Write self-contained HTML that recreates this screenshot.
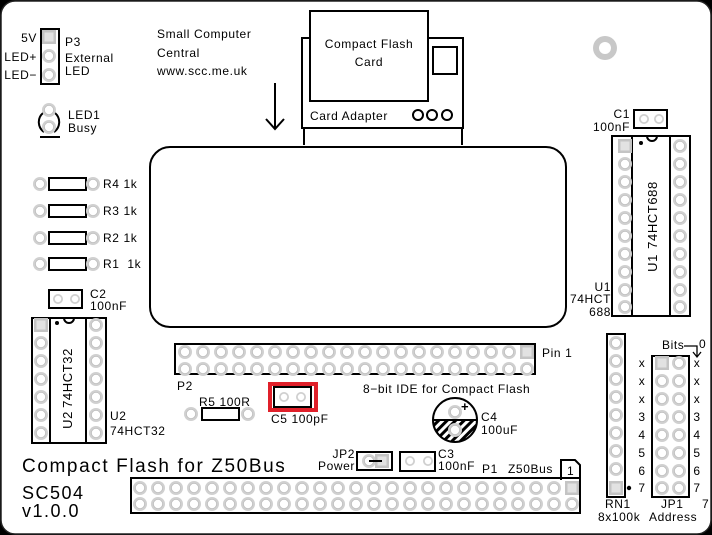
<!DOCTYPE html>
<html><head><meta charset="utf-8"><style>
html,body{margin:0;padding:0;background:#000;}
svg{display:block;font-family:"Liberation Sans",sans-serif;font-size:12px;letter-spacing:0.6px}
text{fill:#000}
</style></head><body>
<svg width="712" height="535" viewBox="0 0 712 535" xmlns="http://www.w3.org/2000/svg">
<defs>
<g id="pad"><circle r="7" fill="#d0d0d0"/><circle r="4.6" fill="#fff"/><circle r="4.6" fill="none" stroke="#bdbdbd" stroke-width="0.8"/></g>
<g id="spad"><rect x="-7" y="-7" width="14" height="14" fill="#c4c4c4"/><rect x="-4.5" y="-4.5" width="9" height="9" fill="#e2e2e2"/></g>
<g id="spad2"><circle r="5" fill="#d0d0d0"/><circle r="3.2" fill="#fff"/></g>
<pattern id="hatch" width="6" height="6" patternUnits="userSpaceOnUse" patternTransform="rotate(45)"><rect width="6" height="6" fill="#fff"/><rect width="3" height="6" fill="#000"/></pattern>
</defs>
<rect x="1" y="1" width="710" height="533" rx="14" fill="#fff" stroke="#222" stroke-width="1.5"/>
<g fill="none" stroke="#000" stroke-width="2">
<rect x="41" y="29" width="18" height="55"/>
<rect x="302" y="38" width="161" height="90"/>
<rect x="310" y="11" width="118" height="90" fill="#fff"/>
<rect x="433" y="47" width="24" height="27"/>
<line x1="304" y1="128" x2="304" y2="145"/><line x1="462" y1="128" x2="462" y2="145"/>
<circle cx="418" cy="115" r="5"/><circle cx="432" cy="115" r="5"/><circle cx="447" cy="115" r="5"/>
<rect x="150" y="147" width="416" height="180" rx="20"/>
<rect x="49" y="178" width="37" height="12"/><rect x="49" y="205" width="37" height="12"/>
<rect x="49" y="232" width="37" height="12"/><rect x="49" y="258" width="37" height="12"/>
<rect x="202" y="408" width="37" height="12"/>
<rect x="49" y="290" width="33" height="18"/><rect x="634" y="110" width="33" height="18"/>
<rect x="400" y="452" width="35" height="19"/>
<rect x="32" y="318" width="74" height="125"/><line x1="50" y1="318" x2="50" y2="443"/><line x1="86" y1="318" x2="86" y2="443"/>
<rect x="612" y="136" width="78" height="180"/><line x1="632" y1="136" x2="632" y2="316"/><line x1="670" y1="136" x2="670" y2="316"/>
<rect x="175" y="344" width="360" height="30"/>
<rect x="357" y="452" width="35" height="18"/>
<rect x="131" y="478" width="449" height="35"/>
<path d="M561 480 V460 H575 L580 465 V480"/>
<rect x="607" y="334" width="18" height="163"/>
<rect x="652" y="356" width="37" height="141"/>
</g>
<rect x="270" y="384" width="46" height="26" fill="none" stroke="#e0202a" stroke-width="4"/>
<rect x="274" y="387" width="37" height="20" fill="none" stroke="#000" stroke-width="2"/>
<path d="M43 113 A12 12 0 0 0 44 132" fill="none" stroke="#000" stroke-width="2"/>
<path d="M55 113 A12 12 0 0 1 54 132" fill="none" stroke="#000" stroke-width="2"/>
<line x1="40" y1="137" x2="60" y2="137" stroke="#000" stroke-width="2"/>
<use href="#pad" x="49" y="110"/><use href="#pad" x="49" y="127"/>
<use href="#spad" x="49" y="37"/><use href="#pad" x="49" y="56"/><use href="#pad" x="49" y="75"/>
<g stroke="#000" stroke-width="2" fill="none"><line x1="275" y1="83" x2="275" y2="129"/><path d="M266 119 L275 129 L284 119"/></g>
<use href="#pad" x="40" y="184"/><use href="#pad" x="93" y="184"/>
<use href="#pad" x="40" y="211"/><use href="#pad" x="93" y="211"/>
<use href="#pad" x="40" y="238"/><use href="#pad" x="93" y="238"/>
<use href="#pad" x="40" y="264"/><use href="#pad" x="93" y="264"/>
<use href="#pad" x="191" y="414"/><use href="#pad" x="248" y="414"/>
<use href="#spad2" x="58" y="299"/><use href="#spad2" x="75" y="299"/>
<use href="#spad2" x="644" y="119"/><use href="#spad2" x="659" y="119"/>
<use href="#spad2" x="410" y="461"/><use href="#spad2" x="428" y="461"/>
<use href="#spad2" x="284" y="397"/><use href="#spad2" x="301" y="397"/>
<use href="#spad" x="41" y="325"/>
<g id="u2l"><use href="#pad" x="41" y="343"/><use href="#pad" x="41" y="361"/><use href="#pad" x="41" y="379"/><use href="#pad" x="41" y="397"/><use href="#pad" x="41" y="415"/><use href="#pad" x="41" y="433"/></g>
<use href="#pad" x="96" y="325"/><use href="#u2l" x="55"/>
<circle cx="57" cy="323" r="2" fill="#000"/><path d="M64 318 A5 5 0 0 0 74 318" fill="none" stroke="#000" stroke-width="2"/>
<text transform="translate(72,378) rotate(-90)" text-anchor="middle" font-size="13">74HCT32</text>
<text transform="translate(72,420) rotate(-90)" text-anchor="middle" font-size="13">U2</text>
<use href="#spad" x="625" y="146"/>
<g id="u1l"><use href="#pad" x="625" y="164"/><use href="#pad" x="625" y="182"/><use href="#pad" x="625" y="200"/><use href="#pad" x="625" y="218"/><use href="#pad" x="625" y="236"/><use href="#pad" x="625" y="254"/><use href="#pad" x="625" y="272"/><use href="#pad" x="625" y="290"/><use href="#pad" x="625" y="307"/></g>
<use href="#pad" x="680" y="146"/><use href="#u1l" x="55"/>
<circle cx="641" cy="143" r="2" fill="#000"/><path d="M647 136 A5 5 0 0 0 657 136" fill="none" stroke="#000" stroke-width="2"/>
<text transform="translate(657,215) rotate(-90)" text-anchor="middle" font-size="13">74HCT688</text>
<text transform="translate(657,263) rotate(-90)" text-anchor="middle" font-size="13">U1</text>
<g id="p2r"><use href="#pad" x="185" y="352"/><use href="#pad" x="203" y="352"/><use href="#pad" x="221" y="352"/><use href="#pad" x="239" y="352"/><use href="#pad" x="257" y="352"/><use href="#pad" x="275" y="352"/><use href="#pad" x="293" y="352"/><use href="#pad" x="311" y="352"/><use href="#pad" x="329" y="352"/><use href="#pad" x="347" y="352"/><use href="#pad" x="365" y="352"/><use href="#pad" x="383" y="352"/><use href="#pad" x="401" y="352"/><use href="#pad" x="419" y="352"/><use href="#pad" x="437" y="352"/><use href="#pad" x="455" y="352"/><use href="#pad" x="473" y="352"/><use href="#pad" x="491" y="352"/><use href="#pad" x="509" y="352"/></g>
<use href="#spad" x="527" y="352"/>
<use href="#p2r" y="17"/><use href="#pad" x="527" y="369"/>
<g id="p1r"><use href="#pad" x="140" y="488"/><use href="#pad" x="158" y="488"/><use href="#pad" x="176" y="488"/><use href="#pad" x="194" y="488"/><use href="#pad" x="212" y="488"/><use href="#pad" x="230" y="488"/><use href="#pad" x="248" y="488"/><use href="#pad" x="266" y="488"/><use href="#pad" x="284" y="488"/><use href="#pad" x="302" y="488"/><use href="#pad" x="320" y="488"/><use href="#pad" x="338" y="488"/><use href="#pad" x="356" y="488"/><use href="#pad" x="374" y="488"/><use href="#pad" x="392" y="488"/><use href="#pad" x="410" y="488"/><use href="#pad" x="428" y="488"/><use href="#pad" x="446" y="488"/><use href="#pad" x="464" y="488"/><use href="#pad" x="482" y="488"/><use href="#pad" x="500" y="488"/><use href="#pad" x="518" y="488"/><use href="#pad" x="536" y="488"/><use href="#pad" x="554" y="488"/></g>
<use href="#spad" x="572" y="488"/>
<use href="#p1r" y="16"/><use href="#pad" x="572" y="504"/>
<use href="#pad" x="369" y="461"/><use href="#spad" x="382" y="461"/>
<line x1="369" y1="461" x2="382" y2="461" stroke="#000" stroke-width="2"/>
<path d="M433 420 A22 22 0 0 0 477 420 Z" fill="url(#hatch)"/>
<circle cx="455" cy="420" r="22" fill="none" stroke="#000" stroke-width="2"/>
<line x1="433" y1="420" x2="477" y2="420" stroke="#000" stroke-width="2"/>
<use href="#pad" x="455" y="412"/><use href="#pad" x="455" y="430"/>
<text x="461" y="411" font-size="13" font-weight="bold">+</text>
<g><use href="#pad" x="616" y="343"/><use href="#pad" x="616" y="361"/><use href="#pad" x="616" y="379"/><use href="#pad" x="616" y="397"/><use href="#pad" x="616" y="415"/><use href="#pad" x="616" y="433"/><use href="#pad" x="616" y="451"/><use href="#pad" x="616" y="469"/></g>
<use href="#spad" x="616" y="488"/><circle cx="629" cy="488" r="2.2" fill="#000"/>
<use href="#spad" x="662" y="363"/>
<g id="jp1l"><use href="#pad" x="662" y="381"/><use href="#pad" x="662" y="399"/><use href="#pad" x="662" y="417"/><use href="#pad" x="662" y="435"/><use href="#pad" x="662" y="453"/><use href="#pad" x="662" y="471"/><use href="#pad" x="662" y="488"/></g>
<use href="#pad" x="679" y="363"/><use href="#jp1l" x="17"/>
<g stroke="#000" stroke-width="1.3" fill="none"><path d="M684 346 H697 V356"/><path d="M693 352 L697 357 L701 352"/></g>
<circle cx="605" cy="48" r="12" fill="#c8c8c8"/><circle cx="605" cy="48" r="6" fill="#fff"/>
<text x="37" y="42" text-anchor="end">5V</text><text x="37" y="61" text-anchor="end">LED+</text><text x="37" y="79" text-anchor="end">LED−</text>
<text x="65" y="46">P3</text><text x="65" y="62">External</text><text x="65" y="75">LED</text>
<text x="68" y="119">LED1</text><text x="68" y="132">Busy</text>
<text x="157" y="38">Small Computer</text><text x="157" y="57">Central</text><text x="157" y="75">www.scc.me.uk</text>
<text x="369" y="48" text-anchor="middle">Compact Flash</text><text x="369" y="66" text-anchor="middle">Card</text>
<text x="310" y="120">Card Adapter</text>
<text x="103" y="188">R4 1k</text><text x="103" y="215">R3 1k</text><text x="103" y="242">R2 1k</text><text x="103" y="268">R1 &#160;1k</text>
<text x="90" y="298">C2</text><text x="90" y="310">100nF</text>
<text x="110" y="420">U2</text><text x="110" y="435">74HCT32</text>
<text x="630" y="118" text-anchor="end">C1</text><text x="630" y="131" text-anchor="end">100nF</text>
<text x="611" y="291" text-anchor="end">U1</text><text x="611" y="303" text-anchor="end">74HCT</text><text x="611" y="316" text-anchor="end">688</text>
<text x="542" y="357">Pin 1</text>
<text x="177" y="390">P2</text>
<text x="363" y="393">8−bit IDE for Compact Flash</text>
<text x="199" y="406">R5 100R</text>
<text x="271" y="423">C5 100pF</text>
<text x="481" y="421">C4</text><text x="481" y="434">100uF</text>
<text x="355" y="458" text-anchor="end">JP2</text><text x="355" y="470" text-anchor="end">Power</text>
<text x="438" y="458">C3</text><text x="438" y="470">100nF</text>
<text x="482" y="473">P1</text><text x="508" y="473">Z50Bus</text>
<text x="567" y="475">1</text>
<text x="22" y="472" font-size="19" letter-spacing="1.6">Compact Flash for Z50Bus</text>
<text x="22" y="499" font-size="18" letter-spacing="1.5">SC504</text><text x="22" y="517" font-size="18" letter-spacing="1.5">v1.0.0</text>
<text x="605" y="508">RN1</text><text x="598" y="521">8x100k</text>
<text x="662" y="349">Bits</text><text x="699" y="348">0</text>
<g text-anchor="middle"><text x="642" y="367">x</text><text x="642" y="385">x</text><text x="642" y="403">x</text><text x="642" y="421">3</text><text x="642" y="439">4</text><text x="642" y="457">5</text><text x="642" y="475">6</text><text x="642" y="492">7</text>
<text x="697" y="367">x</text><text x="697" y="385">x</text><text x="697" y="403">x</text><text x="697" y="421">3</text><text x="697" y="439">4</text><text x="697" y="457">5</text><text x="697" y="475">6</text><text x="697" y="492">7</text></g>
<text x="661" y="508">JP1</text><text x="649" y="521">Address</text><text x="702" y="508">7</text>
</svg>
</body></html>
